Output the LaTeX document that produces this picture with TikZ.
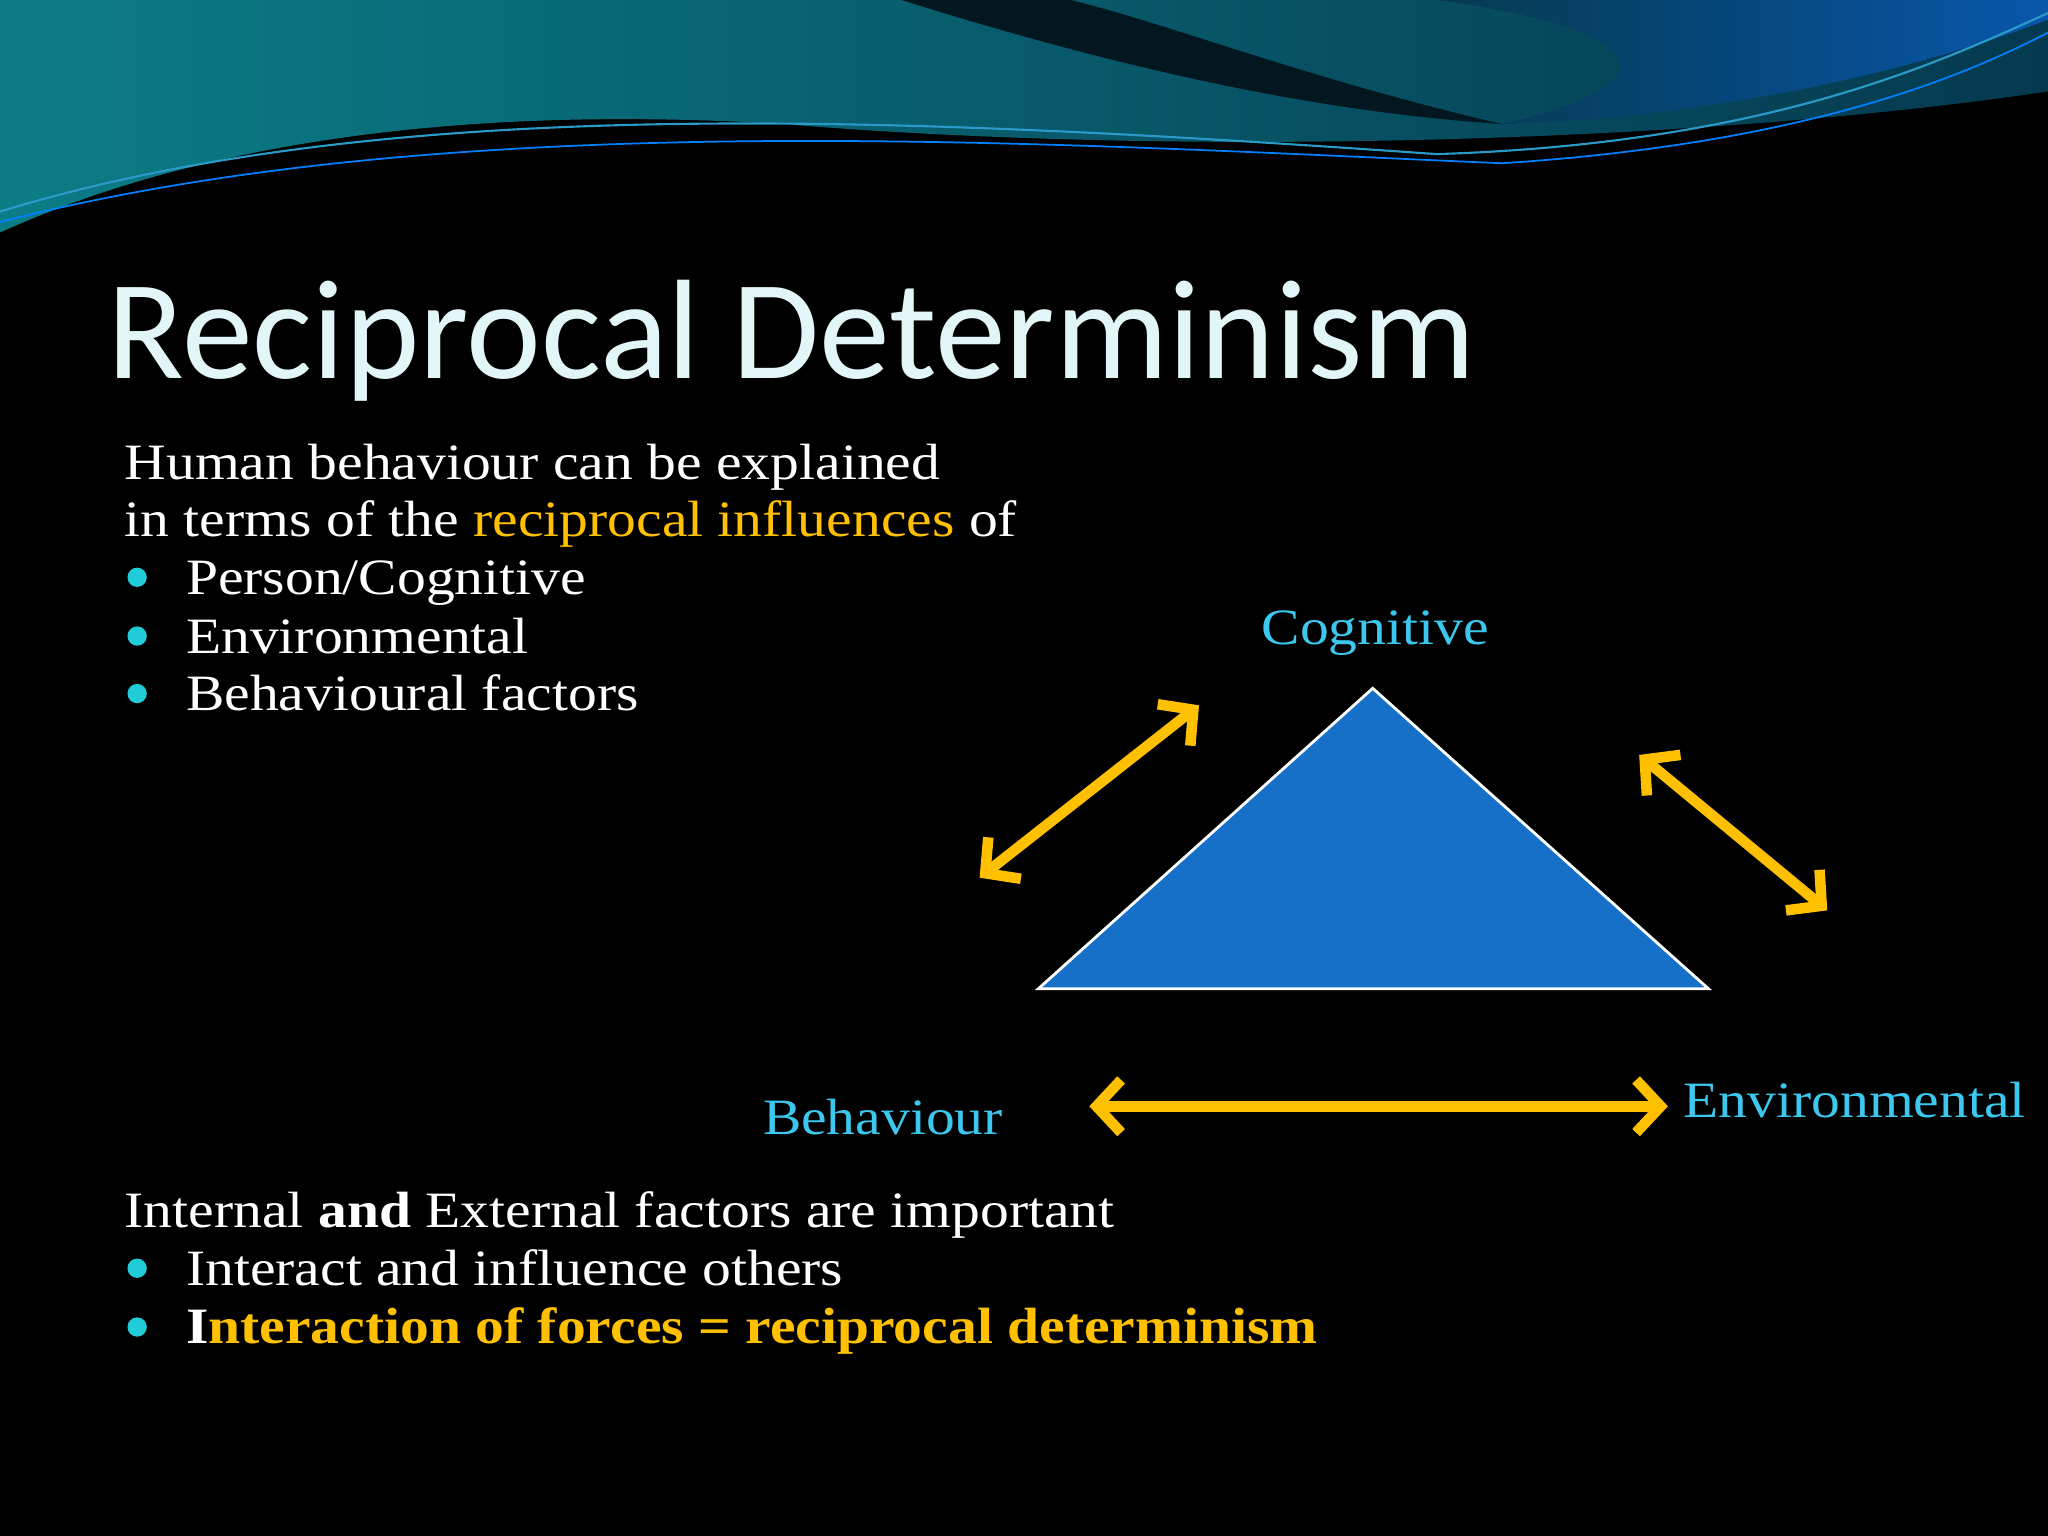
\documentclass[tikz,border=0pt]{standalone}
\usepackage{fontspec}
\setmainfont{Liberation Serif}[FakeStretch=1.13]
\newfontfamily\titlefont{Carlito}
\usetikzlibrary{arrows.meta}
\definecolor{ttl}{HTML}{E2F6F8}
\definecolor{ylw}{HTML}{FFC000}
\definecolor{cyn}{HTML}{3CC8EE}
\definecolor{bul}{HTML}{1FCCD8}
\definecolor{tri}{HTML}{1670C8}
\definecolor{tealA}{HTML}{0B7C86}
\definecolor{tealB}{HTML}{05394F}
\tikzset{
 body/.style={anchor=base west,text=white,font=\fontsize{14.5pt}{16pt}\selectfont,inner sep=0},
 bull/.style={circle,fill=bul,minimum size=5.5pt,inner sep=0},
 lbl/.style={text=cyn,font=\fontsize{14.5pt}{16pt}\selectfont,inner sep=0},
 dbl/.style={draw=ylw,line width=3pt,{Straight Barb[length=7pt,width=15pt,line width=3pt]}-{Straight Barb[length=7pt,width=15pt,line width=3pt]}}
}
\begin{document}
\begin{tikzpicture}[x=0.013061cm,y=-0.013061cm]
\fill[black] (0,0) rectangle (1568,1176);
\useasboundingbox (0,0) rectangle (1568,1176);
% top wave
\shade[left color=tealA,right color=tealB] (0,0) -- (1568,0) -- (1568,70) .. controls (1300,110) and (900,120) .. (600,95) .. controls (350,80) and (150,110) .. (0,178) -- cycle;
\fill[tealB!40!black] (690,0) .. controls (850,50) and (1000,85) .. (1150,95) .. controls (1000,60) and (900,20) .. (820,0) -- cycle;
\shade[left color=tealB,right color=tealA!70!blue] (1100,0) -- (1568,0) -- (1568,15) .. controls (1450,60) and (1300,90) .. (1150,95) .. controls (1300,60) and (1250,20) .. (1100,0);
\draw[cyan!60!teal,line width=0.6pt] (0,162) .. controls (300,70) and (700,90) .. (1100,118) .. controls (1350,110) and (1480,50) .. (1568,10);
\draw[blue!50!cyan,line width=0.5pt] (0,170) .. controls (350,80) and (800,110) .. (1150,125) .. controls (1380,110) and (1500,60) .. (1568,25);
% title
\node[anchor=base west,inner sep=0,text=ttl,font=\titlefont\fontsize{40.3pt}{48pt}\selectfont] (title) at (82,290) {Reciprocal Determinism};
% upper text
\node[body] (l1) at (95,367) {Human behaviour can be explained};
\node[body] (l2) at (95,411) {in terms of the \textcolor{ylw}{reciprocal influences} of};
\node[body] (l3) at (142,455) {Person/Cognitive};
\node[body] (l4) at (142,500) {Environmental};
\node[body] (l5) at (142,544) {Behavioural factors};
\node[bull] (b1) at (105,442) {};
\node[bull] (b2) at (105,487) {};
\node[bull] (b3) at (105,531) {};
% lower text
\node[body] (m1) at (95,940) {Internal \textbf{and} External factors are important};
\node[body] (m2) at (142,984) {Interact and influence others};
\node[body] (m3) at (142,1029) {\textbf{I\textcolor{ylw}{nteraction of forces = reciprocal determinism}}};
\node[bull] (b4) at (105,971) {};
\node[bull] (b5) at (105,1016) {};
% triangle
\draw[white,fill=tri,line width=0.8pt] (795,757) -- (1051,527) -- (1308,757) -- cycle;
% labels
\node[lbl] (cog) at (1053,485) {Cognitive};
\node[lbl] (beh) at (676,855) {Behaviour};
\node[lbl] (env) at (1420,842) {Environmental};
% arrows
\coordinate (a1) at (750,672); \coordinate (a2) at (918,540);
\coordinate (c1) at (1255,578); \coordinate (c2) at (1399,697);
\coordinate (d1) at (834,847); \coordinate (d2) at (1277,847);
\draw[dbl] (a1) -- (a2);
\draw[dbl] (c1) -- (c2);
\draw[dbl] (d1) -- (d2);
\end{tikzpicture}
\end{document}
